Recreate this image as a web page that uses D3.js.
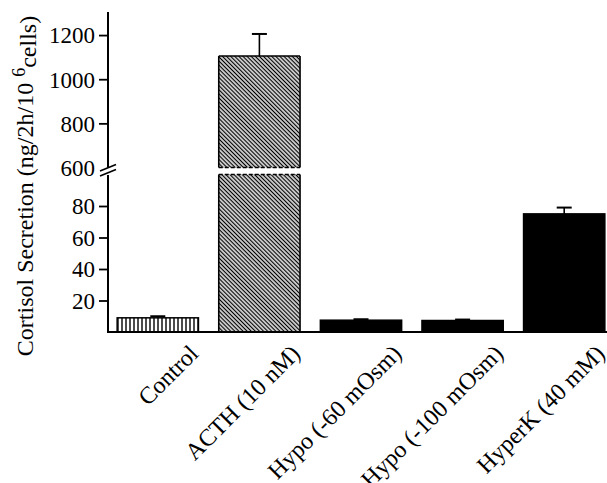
<!DOCTYPE html>
<html>
<head>
<meta charset="utf-8">
<script src="https://cdn.jsdelivr.net/npm/d3@7"></script>
<style>
  html, body { margin: 0; padding: 0; background: #fff; }
  svg { display: block; }
  text { font-family: "Liberation Serif", "Times New Roman", serif; fill: #000; }
</style>
</head>
<body>
<svg id="chart" width="607" height="483"></svg>
<script>
// ---- data ----
const categories = ["Control", "ACTH (10 nM)", "Hypo (-60 mOsm)", "Hypo (-100 mOsm)", "HyperK (40 mM)"];
const means = [9, 1105, 7.5, 7.3, 75];
const errors = [1, 100, 0.6, 0.6, 4];
const lowerTicks = [20, 40, 60, 80];
const upperTicks = [600, 800, 1000, 1200];

// ---- styles ----
const fillStyle = ["url(#vert)", "url(#diag)", "#000", "#000", "#000"];
const FONT = "'Liberation Serif', 'Times New Roman', serif";

const svg = d3.select("#chart");
const defs = svg.append("defs");
const pv = defs.append("pattern").attr("id", "vert").attr("patternUnits", "userSpaceOnUse")
  .attr("width", 4).attr("height", 4);
pv.append("rect").attr("width", 4).attr("height", 4).attr("fill", "#fff");
pv.append("line").attr("x1", 2).attr("x2", 2).attr("y1", 0).attr("y2", 4)
  .attr("stroke", "#000").attr("stroke-width", 1.4);
const pd = defs.append("pattern").attr("id", "diag").attr("patternUnits", "userSpaceOnUse")
  .attr("width", 2.9).attr("height", 10).attr("patternTransform", "rotate(-45)");
pd.append("rect").attr("width", 2.9).attr("height", 10).attr("fill", "#fff");
pd.append("line").attr("x1", 1.45).attr("x2", 1.45).attr("y1", 0).attr("y2", 10)
  .attr("stroke", "#000").attr("stroke-width", 1.4);

const axisX = 108, baseY = 332;
const x = d3.scaleBand().domain(categories).range([107, 615]).paddingInner(0.2).paddingOuter(0.1);
const yLow = d3.scaleLinear().domain([0, 100]).range([baseY, 174.5]);
const yUp = d3.scaleLinear().domain([600, 1300]).range([167.5, 13]);
const yv = v => v > 100 ? yUp(v) : yLow(v);

const g = svg.append("g");

// bars
categories.forEach((c, i) => {
  const v = means[i];
  const x0 = x(c), w = x.bandwidth();
  if (v > 600) {
    g.append("rect").attr("x", x0).attr("y", yLow(100)).attr("width", w)
      .attr("height", yLow(0) - yLow(100)).attr("fill", fillStyle[i]);
    g.append("rect").attr("x", x0).attr("y", yUp(v)).attr("width", w)
      .attr("height", yUp(600) - yUp(v)).attr("fill", fillStyle[i]);
    const ln = (x1, y1, x2, y2, dash) => {
      const l = g.append("line").attr("x1", x1).attr("y1", y1).attr("x2", x2).attr("y2", y2)
        .attr("stroke", "#000").attr("stroke-width", 1.6);
      if (dash) l.attr("stroke-dasharray", "4,2");
    };
    ln(x0, yLow(0), x0, yLow(100));
    ln(x0 + w, yLow(0), x0 + w, yLow(100));
    ln(x0, yLow(100), x0 + w, yLow(100), true);
    ln(x0, yUp(600), x0, yUp(v));
    ln(x0 + w, yUp(600), x0 + w, yUp(v));
    ln(x0, yUp(v), x0 + w, yUp(v));
    ln(x0, yUp(600), x0 + w, yUp(600), true);
  } else {
    g.append("rect").attr("x", x0).attr("y", yLow(v)).attr("width", w)
      .attr("height", yLow(0) - yLow(v)).attr("fill", fillStyle[i])
      .attr("stroke", "#000").attr("stroke-width", 1.5);
  }
  const cx = x0 + w / 2;
  const top = yv(v + errors[i]);
  g.append("line").attr("x1", cx).attr("x2", cx).attr("y1", yv(v)).attr("y2", top)
    .attr("stroke", "#000").attr("stroke-width", 1.6);
  g.append("line").attr("x1", cx - 7.5).attr("x2", cx + 7.5).attr("y1", top).attr("y2", top)
    .attr("stroke", "#000").attr("stroke-width", 2);
});

// axes
const axLow = d3.axisLeft(yLow).tickValues(lowerTicks).tickSize(9).tickPadding(4).tickFormat(d3.format("d"));
const axUp = d3.axisLeft(yUp).tickValues(upperTicks).tickSize(9).tickPadding(4).tickFormat(d3.format("d"));
const gl = svg.append("g").attr("transform", `translate(${axisX},0)`).call(axLow);
const gu = svg.append("g").attr("transform", `translate(${axisX},0)`).call(axUp);
[gl, gu].forEach(a => {
  a.attr("font-family", FONT).attr("font-size", 23);
  a.select(".domain").remove();
  a.selectAll(".tick line").attr("stroke", "#000").attr("stroke-width", 1.8);
  a.selectAll(".tick text").attr("fill", "#000").attr("dy", "0.34em");
});
gu.selectAll(".tick").filter(d => d === 600).select("line").remove();

// axis lines with break
svg.append("line").attr("x1", axisX).attr("x2", axisX).attr("y1", yUp(1300) - 1).attr("y2", 167.5)
  .attr("stroke", "#000").attr("stroke-width", 2);
svg.append("line").attr("x1", axisX).attr("x2", axisX).attr("y1", 175).attr("y2", baseY + 1)
  .attr("stroke", "#000").attr("stroke-width", 2);
svg.append("line").attr("x1", axisX - 1).attr("x2", 607).attr("y1", baseY).attr("y2", baseY)
  .attr("stroke", "#000").attr("stroke-width", 2);
[0, 5].forEach(o => {
  svg.append("line").attr("x1", 100).attr("y1", 171 + o).attr("x2", 116).attr("y2", 164.5 + o)
    .attr("stroke", "#000").attr("stroke-width", 1.6);
});

// x labels
categories.forEach(c => {
  svg.append("text")
    .attr("transform", `translate(${x(c) + x.bandwidth() / 2 + 42},355) rotate(-45)`)
    .attr("text-anchor", "end")
    .attr("font-family", FONT)
    .attr("font-size", 24)
    .text(c);
});

// y label
const yl = svg.append("text")
  .attr("transform", "translate(33,186) rotate(-90)")
  .attr("text-anchor", "middle")
  .attr("font-family", FONT)
  .attr("font-size", 24);
yl.append("tspan").text("Cortisol Secretion (ng/2h/10 ");
yl.append("tspan").attr("dy", "-0.45em").attr("font-size", 18).text("6");
yl.append("tspan").attr("dy", "0.45em").text("cells)");
</script>
</body>
</html>
